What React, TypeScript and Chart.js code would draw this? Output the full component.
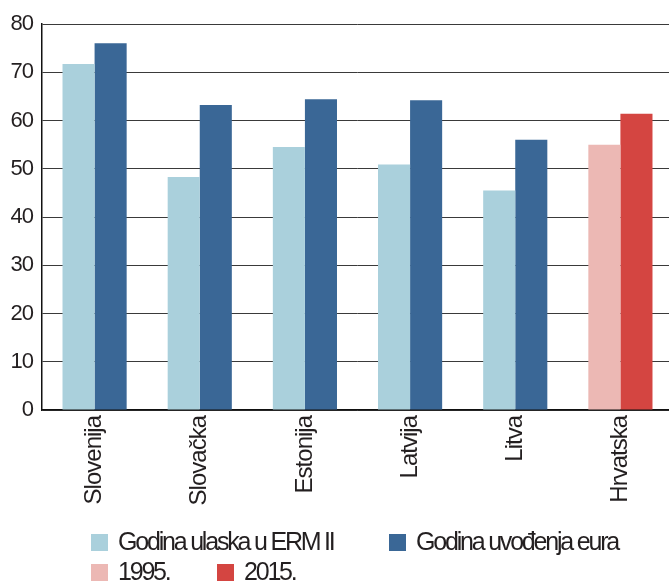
import React, { useEffect, useRef } from "react";
import { Chart, registerables } from "chart.js";

Chart.register(...registerables);

const categories = ["Slovenija", "Slovačka", "Estonija", "Latvija", "Litva", "Hrvatska"];
const firstValues = [71.7, 48.3, 54.5, 50.9, 45.5, 55.0];
const secondValues = [76.0, 63.2, 64.4, 64.2, 56.0, 61.4];
const yTicks = [0, 10, 20, 30, 40, 50, 60, 70, 80];
const legendLabels = ["Godina ulaska u ERM II", "Godina uvođenja eura", "1995.", "2015."];

const LIGHT_BLUE = "#aad0dc";
const DARK_BLUE = "#3a6796";
const PINK = "#ecb8b4";
const RED = "#d44541";
const FONT = "'Liberation Sans', Arial, Helvetica, sans-serif";
const TEXT = "#231f20";

export default function App() {
  const ref = useRef<HTMLCanvasElement | null>(null);

  useEffect(() => {
    document.body.style.margin = "0";
    const canvas = ref.current;
    if (!canvas) return;

    const spacing = {
      id: "spacing",
      beforeInit(c: any) { c.ctx.letterSpacing = "-1px"; },
      beforeUpdate(c: any) { c.ctx.letterSpacing = "-1px"; },
      beforeLayout(c: any) { c.ctx.letterSpacing = "-1px"; },
      beforeDraw(c: any) { c.ctx.letterSpacing = "-1px"; },
    };

    const legendPlugin = {
      id: "customLegend",
      afterDraw(c: any) {
        const ctx = c.ctx as CanvasRenderingContext2D;
        ctx.save();
        (ctx as any).letterSpacing = "-2.2px";
        ctx.font = `25px ${FONT}`;
        ctx.textBaseline = "middle";
        ctx.textAlign = "left";
        const items = [
          { label: legendLabels[0], color: LIGHT_BLUE, x: 91, y: 542 },
          { label: legendLabels[1], color: DARK_BLUE, x: 389, y: 542 },
          { label: legendLabels[2], color: PINK, x: 91, y: 572 },
          { label: legendLabels[3], color: RED, x: 217, y: 572 },
        ];
        for (const it of items) {
          ctx.fillStyle = it.color;
          ctx.fillRect(it.x, it.y - 8, 17, 17);
          ctx.fillStyle = TEXT;
          ctx.fillText(it.label, it.x + 27, it.y + 1);
        }
        ctx.restore();
      },
    };

    const chart = new Chart(canvas, {
      type: "bar",
      data: {
        labels: categories,
        datasets: [
          {
            label: legendLabels[0],
            data: firstValues,
            backgroundColor: categories.map((_, i) => (i === categories.length - 1 ? PINK : LIGHT_BLUE)),
            borderWidth: 0,
            categoryPercentage: 0.61,
            barPercentage: 1,
          },
          {
            label: legendLabels[1],
            data: secondValues,
            backgroundColor: categories.map((_, i) => (i === categories.length - 1 ? RED : DARK_BLUE)),
            borderWidth: 0,
            categoryPercentage: 0.61,
            barPercentage: 1,
          },
        ],
      },
      options: {
        responsive: false,
        animation: false,
        layout: { padding: { top: 24, left: 0, right: 0, bottom: 0 } },
        plugins: {
          legend: { display: false },
          tooltip: { enabled: false },
        },
        scales: {
          x: {
            grid: { display: false, drawTicks: false },
            border: { display: true, color: "#111", width: 1.5 },
            ticks: {
              color: TEXT,
              font: { family: FONT, size: 24 },
              minRotation: 90,
              maxRotation: 90,
              padding: 6,
              autoSkip: false,
            },
            afterFit: (s: any) => { s.height = 173; },
          },
          y: {
            min: 0,
            max: 80,
            afterBuildTicks: (s: any) => { s.ticks = yTicks.map((v) => ({ value: v })); },
            grid: { color: "#3a3a3a", lineWidth: 1, drawTicks: false },
            border: { display: true, color: "#111", width: 1.5 },
            ticks: {
              color: TEXT,
              font: { family: FONT, size: 22 },
              padding: 9,
            },
            afterFit: (s: any) => { s.width = 42; },
          },
        },
      },
      plugins: [spacing, legendPlugin],
    });

    return () => chart.destroy();
  }, []);

  return (
    <div style={{ width: 669, height: 583, overflow: "hidden", background: "#fff" }}>
      <canvas ref={ref} width={673} height={583} style={{ display: "block" }} />
    </div>
  );
}
